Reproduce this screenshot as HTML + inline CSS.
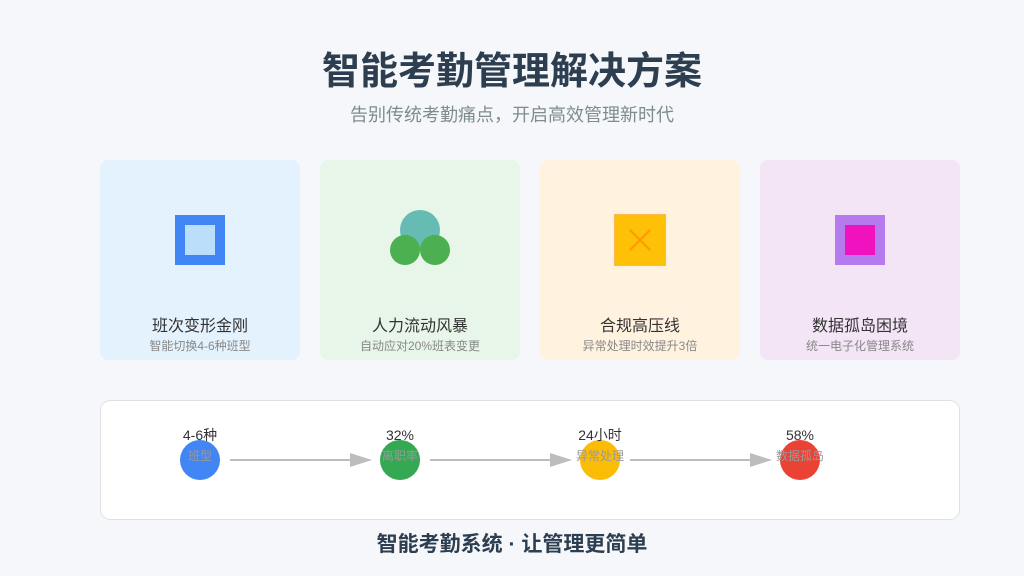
<!DOCTYPE html>
<html><head><meta charset="utf-8"><style>
body{margin:0;width:1024px;height:576px;background:#f5f7fa;font-family:"Liberation Sans","Noto Sans CJK SC",sans-serif;position:relative;overflow:hidden}
.t{position:absolute;left:0;width:1024px;text-align:center}
.card{position:absolute;top:160px;width:200px;height:200px;border-radius:8px}
.ct{position:absolute;width:200px;text-align:center;top:152px;font-size:16px;color:#333}
.cs{position:absolute;width:200px;text-align:center;top:177px;font-size:12px;color:#888}
</style></head><body>
<div class="t" style="top:40px;font-size:38px;font-weight:bold;color:#2c3e50">智能考勤管理解决方案</div>
<div class="t" style="top:101px;font-size:18px;color:#7f8c8d">告别传统考勤痛点，开启高效管理新时代</div>

<div class="card" style="left:100px;background:#e3f2fd"><div class="ct">班次变形金刚</div><div class="cs">智能切换4-6种班型</div></div>
<div class="card" style="left:320px;background:#e8f5e9"><div class="ct">人力流动风暴</div><div class="cs">自动应对20%班表变更</div></div>
<div class="card" style="left:540px;background:#fff3e0"><div class="ct">合规高压线</div><div class="cs">异常处理时效提升3倍</div></div>
<div class="card" style="left:760px;background:#f3e5f5"><div class="ct">数据孤岛困境</div><div class="cs">统一电子化管理系统</div></div>

<svg width="1024" height="576" style="position:absolute;left:0;top:0">
<rect x="175" y="215" width="50" height="50" fill="#4285f4"/><rect x="185" y="225" width="30" height="30" fill="#bbdefb"/>
<circle cx="420" cy="230" r="20" fill="#66bbb3"/><circle cx="405" cy="250" r="15" fill="#4caf50"/><circle cx="435" cy="250" r="15" fill="#4caf50"/>
<rect x="614.5" y="214.5" width="51" height="51" fill="#ffc107" stroke="#ffb74d"/>
<path d="M630 230L650 250M650 230L630 250" stroke="#ff9800" stroke-width="2"/>
<rect x="835" y="215" width="50" height="50" fill="#b57bee"/><rect x="845" y="225" width="30" height="30" fill="#f012be"/>
<rect x="100.5" y="400.5" width="859" height="119" rx="10" fill="#fff" stroke="#e0e0e0"/>
<g stroke="#bdbdbd" stroke-width="2"><line x1="230" y1="460" x2="352" y2="460"/><line x1="430" y1="460" x2="552" y2="460"/><line x1="630" y1="460" x2="752" y2="460"/></g>
<g fill="#bdbdbd"><path d="M350 453L372 460L350 467Z"/><path d="M550 453L572 460L550 467Z"/><path d="M750 453L772 460L750 467Z"/></g>
<circle cx="200" cy="460" r="20" fill="#4285f4"/><circle cx="400" cy="460" r="20" fill="#34a853"/><circle cx="600" cy="460" r="20" fill="#fbbc05"/><circle cx="800" cy="460" r="20" fill="#ea4335"/>
<g font-family="Liberation Sans,Noto Sans CJK SC,sans-serif" text-anchor="middle">
<g font-size="14" fill="#333"><text x="200" y="440">4-6种</text><text x="400" y="440">32%</text><text x="600" y="440">24小时</text><text x="800" y="440">58%</text></g>
<g font-size="12" fill="#999"><text x="200" y="460">班型</text><text x="400" y="460">离职率</text><text x="600" y="460">异常处理</text><text x="800" y="460">数据孤岛</text></g>
</g>
</svg>
<div class="t" style="top:528px;font-size:21px;font-weight:bold;color:#2c3e50">智能考勤系统 · 让管理更简单</div>
</body></html>
